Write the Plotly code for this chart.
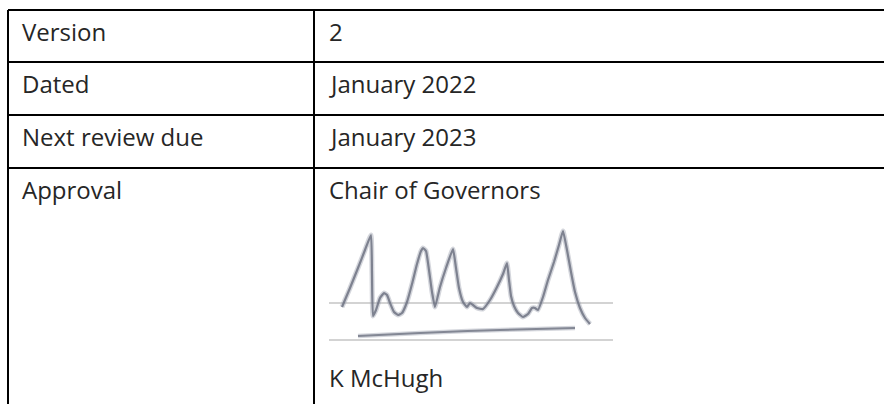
import plotly.graph_objects as go

# ---- data ----
labels = ["Version", "Dated", "Next review due", "Approval"]
values = ["2", "January 2022", "January 2023", "Chair of Governors"]
signatory = "K McHugh"
row_lines = [10, 62, 115, 168]          # horizontal rule positions (px from top)
col_lines = [8, 314]                     # vertical rule positions
sig_x = [342, 350, 358, 365, 371, 372, 373, 376, 380, 384, 387, 390, 394, 398, 402, 407, 412, 417,
         421, 423, 426, 429, 432, 435, 440, 446, 453, 456, 459, 463, 467, 470, 473, 477, 483, 490,
         497, 503, 507, 509, 511, 514, 518, 523, 528, 532, 535, 538, 543, 548, 554, 559, 563, 567,
         571, 575, 580, 585, 590]
sig_y = [307, 288, 268, 250, 235, 275, 316, 310, 298, 293, 295, 303, 312, 315, 313, 302, 284, 264,
         251, 248, 251, 270, 292, 307, 287, 268, 249, 268, 288, 302, 307, 303, 305, 308, 309, 300,
         287, 274, 263, 280, 296, 306, 313, 317, 314, 308, 308, 310, 297, 280, 262, 245, 231, 250,
         272, 292, 308, 318, 324]
under_x = [358, 420, 500, 575]
under_y = [336, 333, 330, 328]
guide_y = [303, 340]
guide_x = [329, 613]

W, H = 884, 404
fig = go.Figure()

# signature (soft halo + core stroke)
fig.add_trace(go.Scatter(x=sig_x, y=sig_y, mode="lines",
                         line=dict(color="rgba(160,165,178,0.45)", width=5, shape="spline", smoothing=0.4),
                         hoverinfo="skip", showlegend=False))
fig.add_trace(go.Scatter(x=sig_x, y=sig_y, mode="lines",
                         line=dict(color="rgba(110,115,130,0.85)", width=2.2, shape="spline", smoothing=0.4),
                         hoverinfo="skip", showlegend=False))
fig.add_trace(go.Scatter(x=under_x, y=under_y, mode="lines",
                         line=dict(color="rgba(160,165,178,0.45)", width=4.5, shape="spline"),
                         hoverinfo="skip", showlegend=False))
fig.add_trace(go.Scatter(x=under_x, y=under_y, mode="lines",
                         line=dict(color="rgba(110,115,130,0.8)", width=2, shape="spline"),
                         hoverinfo="skip", showlegend=False))

shapes = []
for gy in guide_y:
    shapes.append(dict(type="line", x0=guide_x[0], x1=guide_x[1], y0=gy, y1=gy,
                       line=dict(color="#c4c4c4", width=1.5), layer="below"))
for ry in row_lines:
    shapes.append(dict(type="line", x0=col_lines[0], x1=W + 5, y0=ry, y1=ry,
                       line=dict(color="black", width=2)))
for cx in col_lines:
    shapes.append(dict(type="line", x0=cx, x1=cx, y0=row_lines[0], y1=H + 5,
                       line=dict(color="black", width=2)))

font = dict(family="Open Sans", size=24, color="#262626")
annotations = []
for i, (lab, val) in enumerate(zip(labels, values)):
    base = row_lines[i] + 30
    annotations.append(dict(x=19.5, y=base - 9, text=lab, xanchor="left", yanchor="middle",
                            showarrow=False, font=font))
    annotations.append(dict(x=326.5, y=base - 9, text=val, xanchor="left", yanchor="middle",
                            showarrow=False, font=font))
annotations.append(dict(x=326.5, y=386 - 9, text=signatory, xanchor="left", yanchor="middle",
                        showarrow=False, font=font))

fig.update_layout(
    width=W, height=H, margin=dict(l=0, r=0, t=0, b=0),
    paper_bgcolor="white", plot_bgcolor="white",
    xaxis=dict(range=[0, W], visible=False, fixedrange=True),
    yaxis=dict(range=[H, 0], visible=False, fixedrange=True),
    shapes=shapes, annotations=annotations,
)
fig.write_html("out.html", config={"displayModeBar": False},
               post_script="document.body.style.margin='0';document.body.style.overflow='hidden';")
